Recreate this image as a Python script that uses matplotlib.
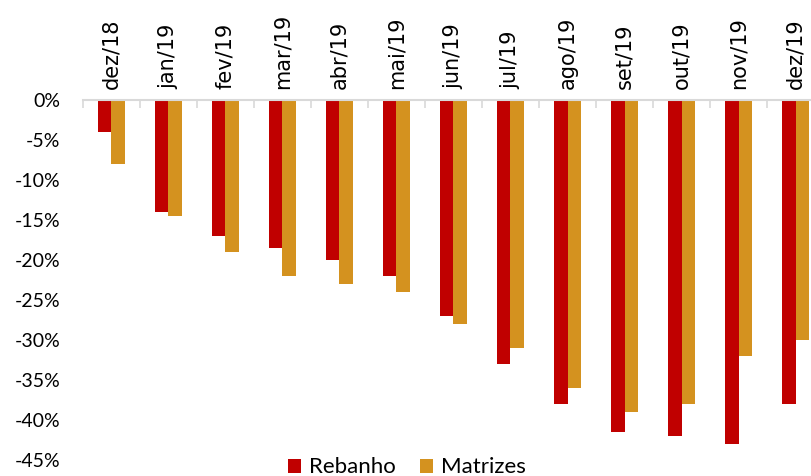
import numpy as np
import matplotlib.pyplot as plt
from matplotlib.ticker import FuncFormatter

meses = ["dez/18", "jan/19", "fev/19", "mar/19", "abr/19", "mai/19", "jun/19",
         "jul/19", "ago/19", "set/19", "out/19", "nov/19", "dez/19"]
rebanho = [-4, -14, -17, -18.5, -20, -22, -27, -33, -38, -41.5, -42, -43, -38]
matrizes = [-8, -14.5, -19, -22, -23, -24, -28, -31, -36, -39, -38, -32, -30]

plt.rcParams['font.family'] = ['Lato', 'DejaVu Sans']

fig = plt.figure(figsize=(8.11, 4.76), dpi=100)
# eixo ultrapassa a borda direita da figura de propósito
ax = fig.add_axes([82.7 / 811, 16 / 476, 741.5 / 811, 360 / 476])

x = np.arange(len(meses))
w = 0.237
ax.bar(x - w / 2, rebanho, w, color="#C00000", label="Rebanho")
ax.bar(x + w / 2, matrizes, w, color="#D4921F", label="Matrizes")

ax.set_xlim(-0.5, len(meses) - 0.5)
ax.set_ylim(-45, 0)
ax.set_yticks(np.arange(0, -46, -5))
ax.yaxis.set_major_formatter(FuncFormatter(lambda v, p: f"{v:.0f}%"))
ax.tick_params(axis="y", length=0, pad=16, labelsize=14)

# rótulos dos meses em cima, marcas nas divisões das categorias
ax.xaxis.tick_top()
ax.set_xticks(np.arange(-0.5, len(meses), 1))
ax.set_xticklabels([])
ax.set_xticks(x, minor=True)
ax.set_xticklabels(meses, minor=True, rotation=90, fontsize=15, family="DejaVu Sans")
ax.tick_params(axis="x", which="major", direction="in", length=6, width=1.2, color="#d9d9d9")
ax.tick_params(axis="x", which="minor", length=0, pad=8)

for s in ["left", "right", "bottom"]:
    ax.spines[s].set_visible(False)
ax.spines["top"].set_color("#d9d9d9")
ax.spines["top"].set_linewidth(1.5)

fig.legend(loc="lower center", bbox_to_anchor=(407 / 811, -0.045), ncol=2, frameon=False,
           fontsize=16, handlelength=0.6, handleheight=0.6, handletextpad=0.35, columnspacing=1.1)

fig.savefig("out.png", dpi=100)
